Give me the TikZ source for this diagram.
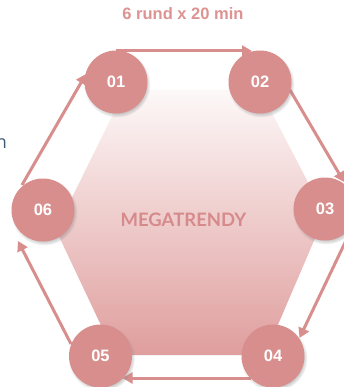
\documentclass[tikz,border=0pt]{standalone}
\usepackage{fontspec}
\setmainfont{Liberation Sans}
\newfontfamily\latofont{Lato}
\newfontfamily\opensansfont{Open Sans}
\usetikzlibrary{arrows.meta,calc,shadows}
\definecolor{rose}{HTML}{D88E8D}
\definecolor{titlerose}{HTML}{DC9392}
\definecolor{megarose}{HTML}{D68A8B}
\definecolor{hextop}{HTML}{FDF8F8}
\definecolor{hexbot}{HTML}{DF9E9D}
\definecolor{slate}{HTML}{3E5A78}
\pgfdeclarelayer{bg}
\pgfsetlayers{bg,main}
\tikzset{
  stepcirc/.style={circle, fill=rose, minimum size=63pt, inner sep=0pt, text=white,
    font=\bfseries\fontsize{16.5}{17}\selectfont,
    circular drop shadow={shadow xshift=1pt, shadow yshift=-2pt, shadow scale=1.06, opacity=0.45}},
  flowarrow/.style={draw=rose, line width=3pt, -{Triangle[length=10pt,width=11pt]}},
}
\begin{document}
\begin{tikzpicture}[x=1pt,y=-1pt]
\useasboundingbox (0,0) rectangle (344,387);

\node[stepcirc] (c1) at (116,82) {01};
\node[stepcirc] (c2) at (260,82) {02};
\node[stepcirc] (c3) at (325,209) {03};
\node[stepcirc] (c4) at (273,356) {04};
\node[stepcirc] (c5) at (100.5,356) {05};
\node[stepcirc] (c6) at (43,210) {06};

\node[text=titlerose, font=\bfseries\fontsize{16.5}{17}\selectfont] (title) at (183,14) {6 rund x 20 min};
\node[text=megarose, font=\latofont\bfseries\fontsize{18.5}{19}\selectfont] (mega) at (183.5,220) {MEGATRENDY};
\node[text=slate, anchor=base east, font=\opensansfont\fontsize{18}{18}\selectfont, inner sep=0pt] (cut) at (7,149) {n};

\begin{pgfonlayer}{bg}
\fill[white] (0,0) rectangle (344,387);
\shade[top color=hextop, bottom color=hexbot]
  (125,90) -- (260,90) -- (325,215) -- (265,355) -- (115,355) -- (56,230) -- cycle;
\draw[flowarrow] ($(c6.center)+(-21,-25)$) -- ($(c1.center)+(-30,-8)$);
\draw[flowarrow] ($(c1.center)+(0,-31)$) -- ($(c2.center)+(-8,-31)$);
\draw[flowarrow] ($(c2.center)+(30,8)$) -- ($(c3.center)+(19,-27)$);
\draw[flowarrow] ($(c3.center)+(26,21)$) -- ($(c4.center)+(26.5,-18)$);
\draw[flowarrow] ($(c4.center)+(-22,22)$) -- ($(c5.center)+(22,22)$);
\draw[flowarrow] ($(c5.center)+(-29.5,-12)$) -- ($(c6.center)+(-25,31)$);
\end{pgfonlayer}
\end{tikzpicture}
\end{document}
